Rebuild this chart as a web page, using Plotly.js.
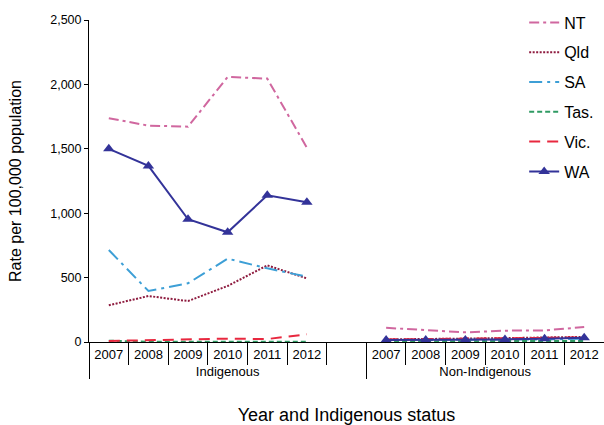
<!DOCTYPE html>
<html><head><meta charset="utf-8">
<script src="https://cdn.plot.ly/plotly-3.0.1.min.js"></script>
<style>html,body{margin:0;padding:0;background:#fff}#chart{width:604px;height:425px}</style>
</head><body><div id="chart"></div>
<script>
const groups = ["Indigenous","Indigenous","Indigenous","Indigenous","Indigenous","Indigenous","Indigenous",
  "Non-Indigenous","Non-Indigenous","Non-Indigenous","Non-Indigenous","Non-Indigenous","Non-Indigenous"];
const years = ["2007","2008","2009","2010","2011","2012"," ","2007","2008","2009","2010","2011","2012"];
// null = empty gap category
const NT  = [1738,1680,1672,2058,2045,1508,null, 110,95,75,88,90,116];
const Qld = [285,357,318,435,595,494,null, 20,22,25,30,35,40];
const SA  = [714,396,456,647,572,507,null, 15,15,15,20,20,25];
const Tas = [10,2,1,2,2,2,null, 5,5,5,5,5,8];
const Vic = [8,15,23,26,23,60,null, 20,22,25,30,32,36];
const WA  = [1500,1367,953,852,1139,1085,null, 15,15,15,20,25,33];

const mk = (name, y, color, dash, extra) => Object.assign({
  type:"scatter", mode:"lines", name, legendgroup:name, x:[groups, years], y,
  line:{color, width:2, dash}, connectgaps:false, cliponaxis:false
}, extra||{});

const data = [
  mk("NT", NT, "#D0679F", "10px,4px,3px,4px"),
  mk("Qld", Qld, "#8E1B3F", "2px,1.5px"),
  mk("SA", SA, "#3D9FD6", "13px,5px,3px,5px"),
  mk("Tas.", Tas, "#2F9A63", "5px,3px"),
  mk("Vic.", Vic, "#E8283F", "11px,7px"),
  mk("WA", WA, "#333399", "solid", {mode:"lines+markers", marker:{symbol:"triangle-up", size:10, color:"#333399"}})
];

const layout = {
  width:604, height:425,
  margin:{l:89, r:0, t:20, b:83, autoexpand:false},
  paper_bgcolor:"#fff", plot_bgcolor:"#fff",
  font:{family:"Liberation Sans, Arial, sans-serif", color:"#000"},
  showlegend:true,
  legend:{x:0.845, y:1.045, xanchor:"left", yanchor:"top", font:{size:16}, bgcolor:"rgba(0,0,0,0)",
    tracegroupgap:6, traceorder:"grouped", itemwidth:30},
  xaxis:{type:"multicategory", range:[-0.5,12.5], automargin:false, showline:true, linecolor:"#000", linewidth:1,
    tickson:"boundaries", ticks:"outside", ticklen:22, tickcolor:"#000", tickangle:0,
    showdividers:true, dividercolor:"#000", dividerwidth:1,
    tickfont:{size:13}, showgrid:false, zeroline:false,
    title:{text:"Year and Indigenous status", font:{size:18}, standoff:30}},
  yaxis:{range:[0,2500], automargin:false, tickvals:[0,500,1000,1500,2000,2500], tickformat:",",
    showline:true, linecolor:"#000", linewidth:1, ticks:"outside", ticklen:4, tickcolor:"#000",
    showgrid:false, zeroline:false, tickfont:{size:12.5},
    title:{text:"Rate per 100,000 population", font:{size:16}, standoff:24}}
};
Plotly.newPlot("chart", data, layout, {displayModeBar:false, staticPlot:true});
</script></body></html>
